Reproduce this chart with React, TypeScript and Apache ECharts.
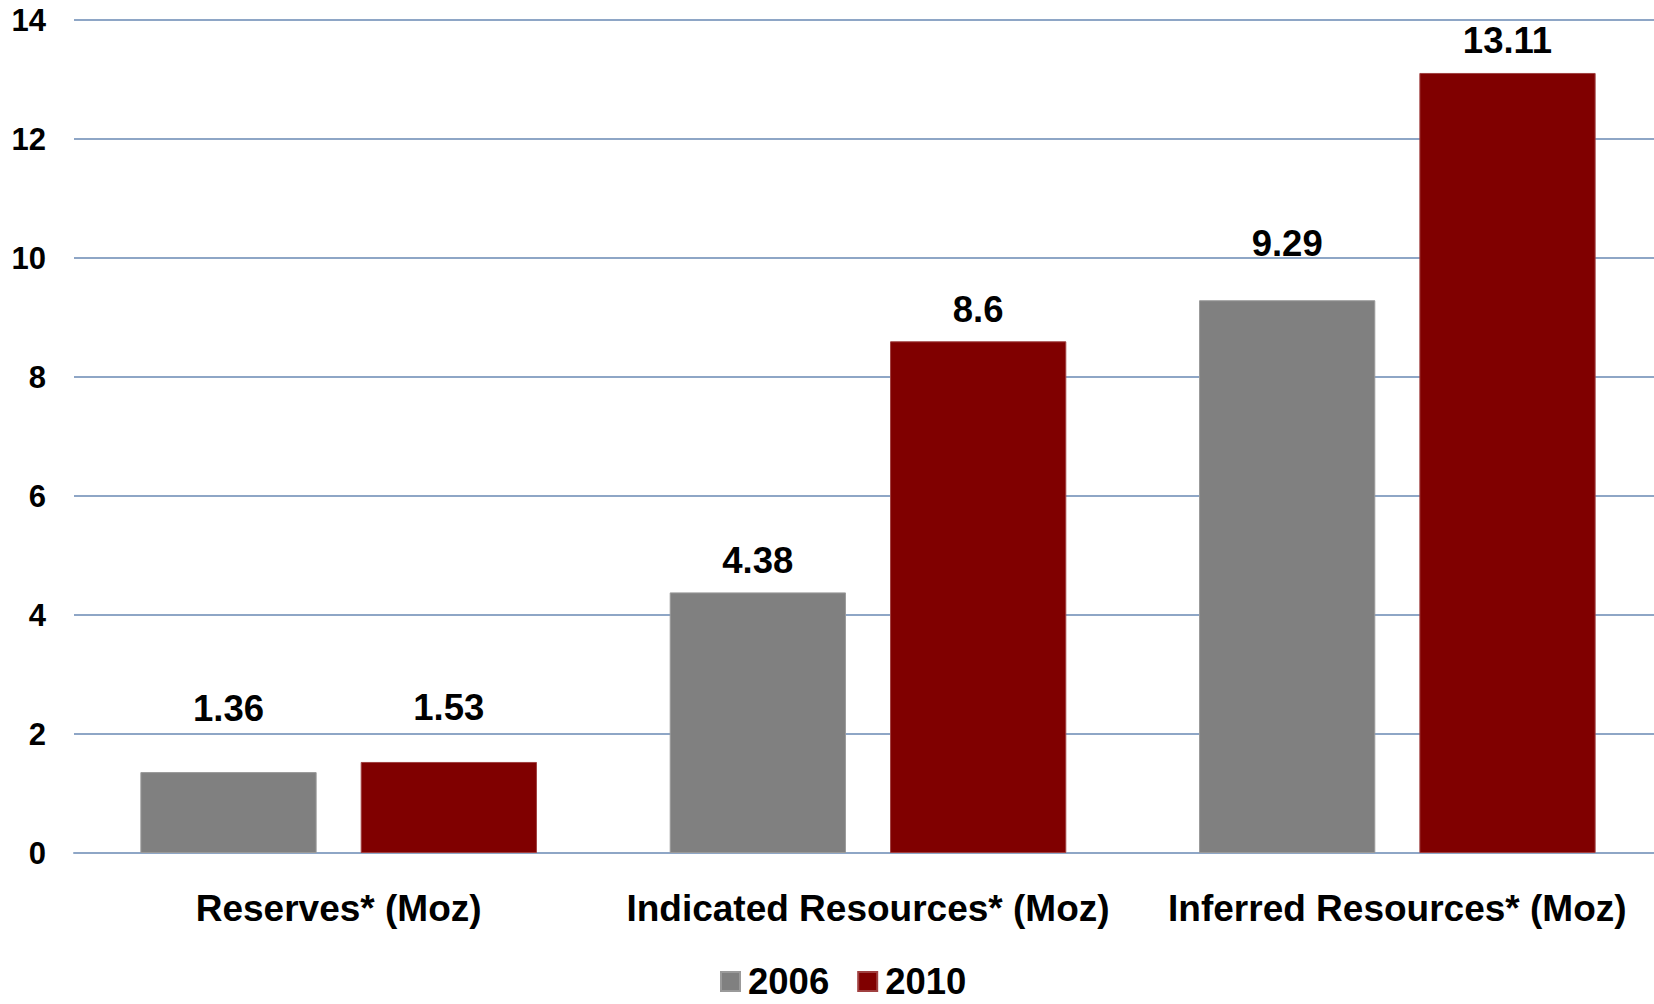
import React, { useEffect, useRef } from "react";
import * as echarts from "echarts";

const categories = ["Reserves* (Moz)", "Indicated Resources* (Moz)", "Inferred Resources* (Moz)"];
const seriesNames = ["2006", "2010"];
const values2006 = [1.36, 4.38, 9.29];
const values2010 = [1.53, 8.6, 13.11];
const labelLift2006 = [32, 0, 25];
const labelLift2010 = [22, 0, 0];
const yTicks = { min: 0, max: 14, interval: 2 };

const FONT = "'Liberation Sans', Arial, Helvetica, sans-serif";

export default function App() {
  const ref = useRef<HTMLDivElement>(null);
  useEffect(() => {
    document.body.style.margin = "0";
    const chart = echarts.init(ref.current!, null, { renderer: "svg" });
    const mk = (vals: number[], lifts: number[]) =>
      vals.map((v, i) => ({ value: v, label: { offset: [0, -lifts[i]] } }));
    const labelStyle = {
      show: true,
      position: "top",
      distance: 14,
      fontFamily: FONT,
      fontWeight: "bold",
      fontSize: 36.5,
      lineHeight: 36,
      color: "#000",
    };
    chart.setOption({
      animation: false,
      backgroundColor: "#ffffff",
      grid: { left: 74, width: 1588, top: 20, bottom: 151, containLabel: false, outerBoundsMode: "none" },
      legend: {
        data: seriesNames,
        left: 720,
        top: 963,
        padding: 0,
        icon: "rect",
        itemWidth: 19,
        itemHeight: 19,
        itemGap: 28,
        textStyle: { fontFamily: FONT, fontWeight: "bold", fontSize: 36.5, lineHeight: 30, color: "#000", padding: [0, 0, 0, 3] },
      },
      xAxis: {
        type: "category",
        data: categories,
        axisLine: { show: true, lineStyle: { color: "#8EA6C6", width: 2 } },
        axisTick: { show: false },
        axisLabel: {
          margin: 37,
          interval: 0,
          fontFamily: FONT,
          fontWeight: "bold",
          fontSize: 37,
          lineHeight: 37,
          color: "#000",
        },
      },
      yAxis: {
        type: "value",
        min: yTicks.min,
        max: yTicks.max,
        interval: yTicks.interval,
        axisLine: { show: false },
        axisTick: { show: false },
        splitLine: { show: true, lineStyle: { color: "#8EA6C6", width: 2 } },
        axisLabel: {
          margin: 28,
          fontFamily: FONT,
          fontWeight: "bold",
          fontSize: 31,
          color: "#000",
        },
      },
      series: [
        {
          name: seriesNames[0],
          type: "bar",
          data: mk(values2006, labelLift2006),
          barWidth: "33.3%",
          barGap: "25%",
          itemStyle: { color: "#808080", borderColor: "#9a9a9a", borderWidth: 1 },
          label: labelStyle,
        },
        {
          name: seriesNames[1],
          type: "bar",
          data: mk(values2010, labelLift2010),
          barWidth: "33.3%",
          barGap: "25%",
          itemStyle: { color: "#800000", borderColor: "#a04040", borderWidth: 1 },
          label: labelStyle,
        },
      ],
    });
    return () => chart.dispose();
  }, []);
  return <div ref={ref} style={{ width: 1654, height: 1004 }} />;
}
